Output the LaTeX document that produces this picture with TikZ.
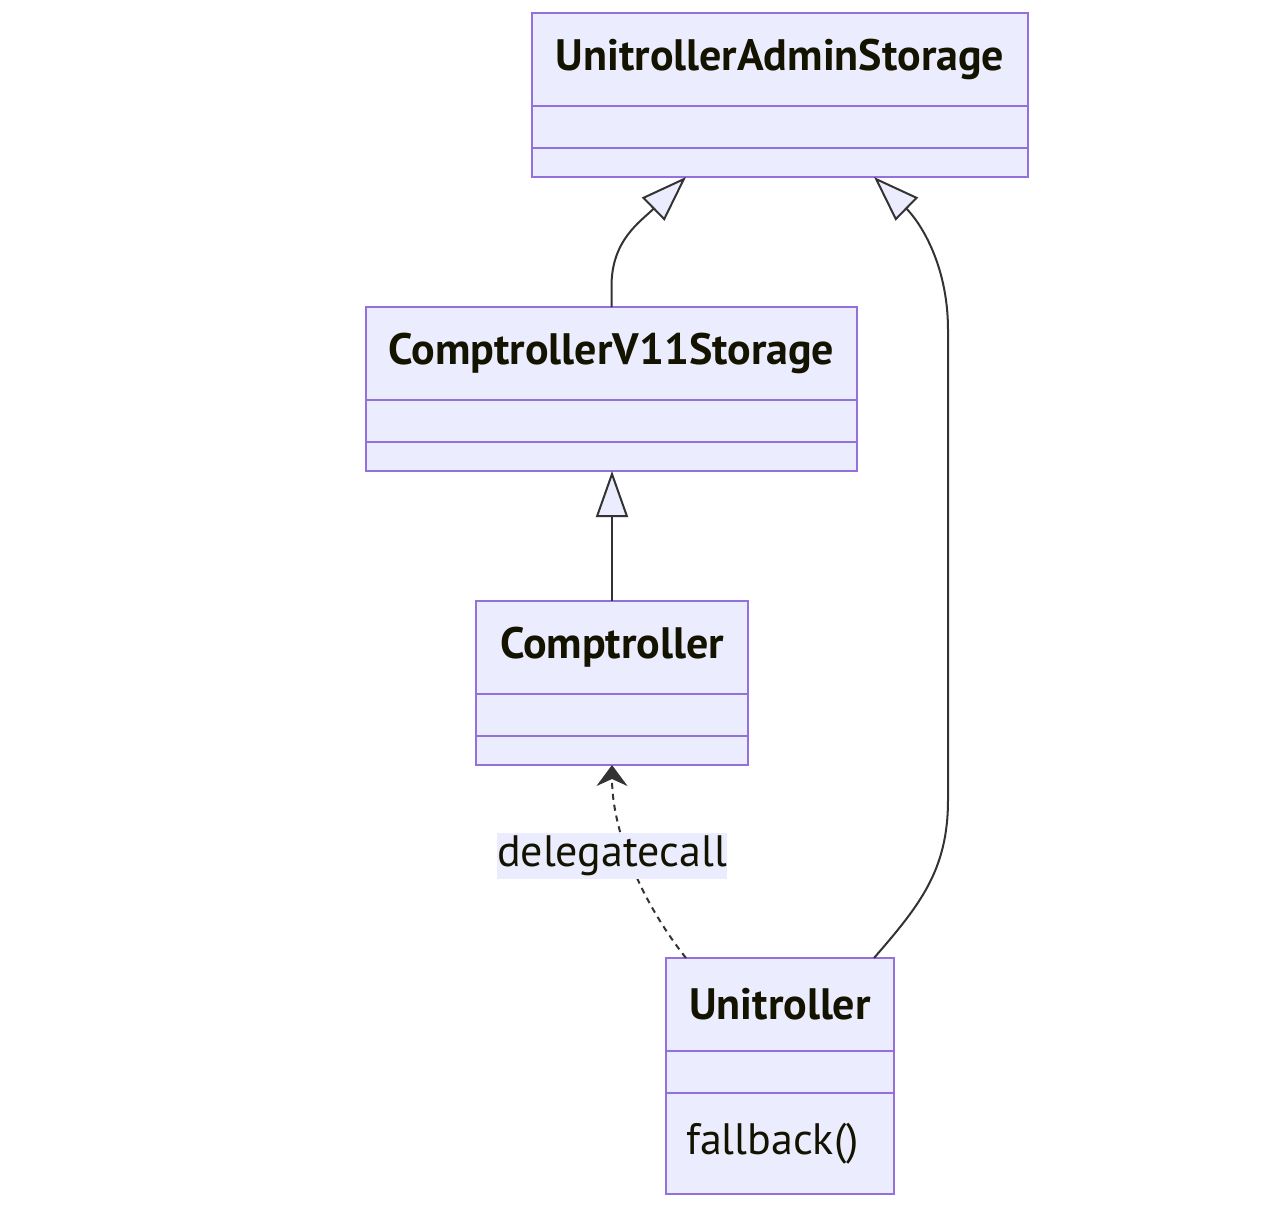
\documentclass[tikz,border=0pt]{standalone}
\usepackage{fontspec}
\setmainfont{PT Sans}
\usetikzlibrary{arrows.meta,positioning}
\usepackage{xcolor}
\definecolor{classfill}{HTML}{ECECFF}
\definecolor{classline}{HTML}{9370DB}
\definecolor{edgeline}{HTML}{333333}
\definecolor{classtext}{HTML}{131300}
\tikzset{
	classbox/.style={draw=classline,fill=classfill,line width=1.3pt,inner sep=0pt,outer sep=0pt,text=classtext},
	classhead/.style={classbox,anchor=north west,minimum height=46.5pt,font=\fontsize{22}{26}\selectfont\bfseries},
	classpart/.style={classbox,font=\fontsize{22}{26}\selectfont},
	inherit/.style={draw=edgeline,line width=1pt,-{Triangle[length=23pt,width=16pt,fill=classfill]}},
	depend/.style={draw=edgeline,line width=1pt,dash pattern=on 3pt off 2.5pt,-{Stealth[length=10.5pt,width=15.5pt,inset=3.5pt,fill=edgeline]}},
	edgelabel/.style={fill=classfill,inner sep=0pt,minimum width=114.5pt,minimum height=23pt,text=classtext,font=\fontsize{22}{26}\selectfont}
}

\begin{document}
\begin{tikzpicture}[x=0.5pt,y=-0.5pt]
	\useasboundingbox (0,0) rectangle (1276,1231);
	% classes
	\node[classhead,minimum width=248pt] (uas) at (532,13) {UnitrollerAdminStorage};
	\node[classpart,minimum width=248pt,minimum height=21pt,below=0pt of uas] (uasattr) {};
	\node[classpart,minimum width=248pt,minimum height=14.5pt,below=0pt of uasattr] (uasops) {};

	\node[classhead,minimum width=245.5pt] (v11) at (366,307) {ComptrollerV11Storage};
	\node[classpart,minimum width=245.5pt,minimum height=21pt,below=0pt of v11] (v11attr) {};
	\node[classpart,minimum width=245.5pt,minimum height=14.5pt,below=0pt of v11attr] (v11ops) {};

	\node[classhead,minimum width=136pt] (comp) at (476,601) {Comptroller};
	\node[classpart,minimum width=136pt,minimum height=21pt,below=0pt of comp] (compattr) {};
	\node[classpart,minimum width=136pt,minimum height=14.5pt,below=0pt of compattr] (compops) {};

	\node[classhead,minimum width=114pt] (uni) at (666,958) {Unitroller};
	\node[classpart,minimum width=114pt,minimum height=21pt,below=0pt of uni] (uniattr) {};
	\node[classpart,minimum width=114pt,text width=94pt,align=left,inner xsep=10pt,minimum height=50.5pt,below=0pt of uniattr] (uniops) {fallback()};

	% ends of the bent connectors
	\coordinate (uasL) at (686,177);
	\coordinate (uasR) at (874,177);
	\coordinate (uniL) at (686,958);
	\coordinate (uniR) at (874,958);

	\draw[inherit] (comp.north) -- (comp.north |- v11ops.south);
	\draw[inherit] (v11.north) -- ++(0,-22) .. controls (612,240) and (640,222) .. (uasL);
	\draw[inherit] (uniR) .. controls (920,905) and (948,870) .. (948,800) -- (948,330) .. controls (948,262) and (918,220) .. (uasR);
	\draw[depend] (uniL) .. controls (640,900) and (612,830) .. (compops.south);
	\node[edgelabel] (call) at (612,856) {delegatecall};
\end{tikzpicture}
\end{document}
